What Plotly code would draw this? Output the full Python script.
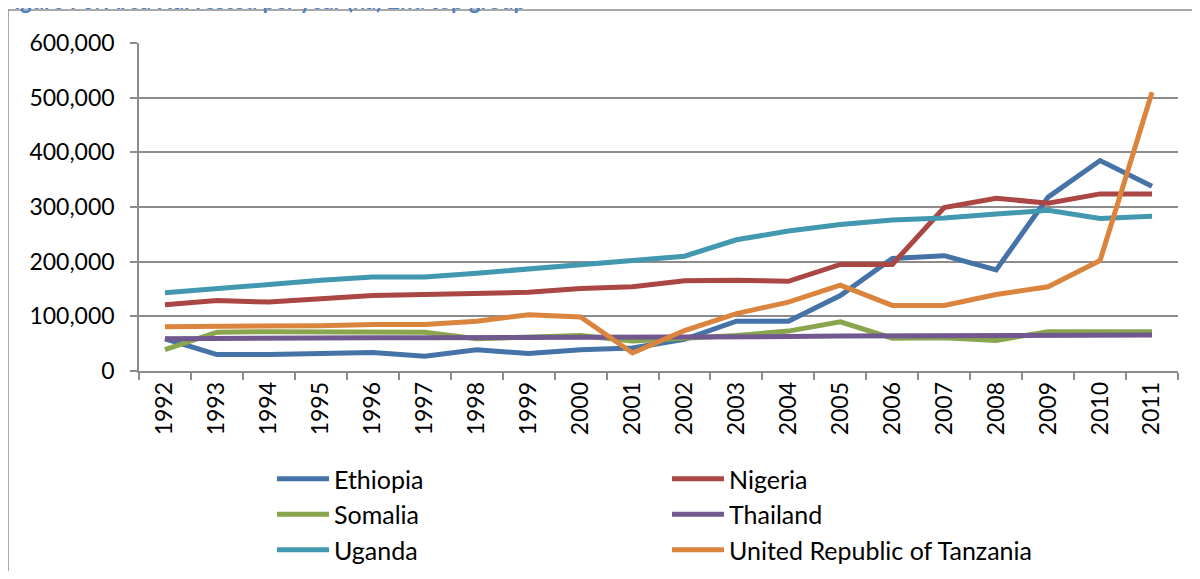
import plotly.graph_objects as go

years = [str(y) for y in range(1992, 2012)]

ethiopia = [59000, 30000, 30000, 32000, 34000, 27000, 39000, 32000, 39000, 42000,
            58000, 91000, 91000, 138000, 206000, 211000, 185000, 318000, 385000, 338000]
nigeria = [121000, 129000, 126000, 132000, 138000, 140000, 143000, 144000, 151000, 154000,
           165000, 166000, 164000, 195000, 195000, 299000, 316000, 307000, 324000, 324000]
somalia = [39000, 71000, 72000, 72000, 71000, 71000, 59000, 62000, 65000, 55000,
           60000, 65000, 73000, 90000, 60000, 61000, 56000, 72000, 72000, 72000]
thailand = [59000, 60000, 59000, 60000, 61000, 61000, 61000, 62000, 62000, 62000,
            62000, 63000, 63000, 64000, 64000, 65000, 65000, 65000, 66000, 66000]
uganda = [143000, 151000, 159000, 166000, 172000, 172000, 179000, 186000, 193000, 202000,
          210000, 240000, 256000, 268000, 276000, 280000, 287000, 294000, 279000, 283000]
tanzania = [81000, 81000, 81000, 83000, 85000, 85000, 91000, 103000, 99000, 33000,
            74000, 105000, 126000, 157000, 120000, 120000, 140000, 154000, 202000, 510000]

series_names = ["Ethiopia", "Nigeria", "Somalia", "Thailand", "Uganda",
                "United Republic of Tanzania"]
series_values = [ethiopia, nigeria, somalia, thailand, uganda, tanzania]
colors = ["#4572A7", "#AA4643", "#89A54E", "#71588F", "#4198AF", "#DB843D"]

y_ticks = [0, 100000, 200000, 300000, 400000, 500000, 600000]
y_labels = ["0", "100,000", "200,000", "300,000", "400,000", "500,000", "600,000"]

FONT = "Lato"

fig = go.Figure()
for name, vals, col in zip(series_names, series_values, colors):
    fig.add_trace(go.Scatter(x=years, y=vals, name=name, mode="lines",
                             line=dict(color=col, width=5)))

# page has an 8px body margin; work in page pixels and convert
OFF = 8
W, H = 1200 - 2 * OFF, 579 - 2 * OFF
PL, PR, PT, PB = 139, 1178, 43, 371          # plot area in page pixels
L, R, T = PL - OFF, W - (PR - OFF), PT - OFF
B = H - (PB - OFF)
pw = W - L - R
ph = H - T - B

def px_to_paper_x(px):
    return (px - OFF - L) / pw

def px_to_paper_y(py):
    return (H - B - (py - OFF)) / ph

grid_col = "#8C8C8C"

fig.update_layout(
    width=W, height=H,
    margin=dict(l=L, r=R, t=T, b=B, autoexpand=False),
    paper_bgcolor="white", plot_bgcolor="white",
    font=dict(family=FONT, size=23, color="black"),
    showlegend=True,
    legend=dict(orientation="h", x=px_to_paper_x(272), y=px_to_paper_y(456),
                xanchor="left", yanchor="top", entrywidth=328, entrywidthmode="pixels",
                font=dict(family=FONT, size=25, color="black"), itemwidth=52,
                bgcolor="rgba(0,0,0,0)"),
    xaxis=dict(type="category", range=[-0.5, 19.5], tickangle=-90,
               showgrid=False, showline=True, linecolor=grid_col, linewidth=1.5,
               ticks="outside", tickson="boundaries", ticklen=7, tickcolor=grid_col,
               tickwidth=1.5, tickfont=dict(family=FONT, size=23), fixedrange=True),
    yaxis=dict(range=[0, 600000], tickvals=y_ticks, ticktext=y_labels,
               showgrid=True, gridcolor=grid_col, gridwidth=1.5,
               showline=True, linecolor=grid_col, linewidth=1.5,
               ticks="outside", ticklen=7, tickcolor=grid_col, tickwidth=1.5,
               ticklabelstandoff=11,
               tickfont=dict(family=FONT, size=23), zeroline=False, fixedrange=True),
    shapes=[
        dict(type="line", xref="paper", yref="paper",
             x0=px_to_paper_x(8), x1=px_to_paper_x(8),
             y0=px_to_paper_y(10), y1=px_to_paper_y(600),
             line=dict(color="#8C8C8C", width=1.5)),
        dict(type="line", xref="paper", yref="paper",
             x0=px_to_paper_x(8), x1=px_to_paper_x(1220),
             y0=px_to_paper_y(10), y1=px_to_paper_y(10),
             line=dict(color="#8C8C8C", width=1.5)),
    ],
    annotations=[
        dict(text="<b>Figure 70: Area Harvested per year (ha) 2nd top group</b>",
             xref="paper", yref="paper", x=px_to_paper_x(0), y=px_to_paper_y(16),
             xanchor="left", yanchor="bottom", showarrow=False,
             font=dict(family=FONT, size=22, color="#4F81BD")),
    ],
)

fig.write_html("out.html")
